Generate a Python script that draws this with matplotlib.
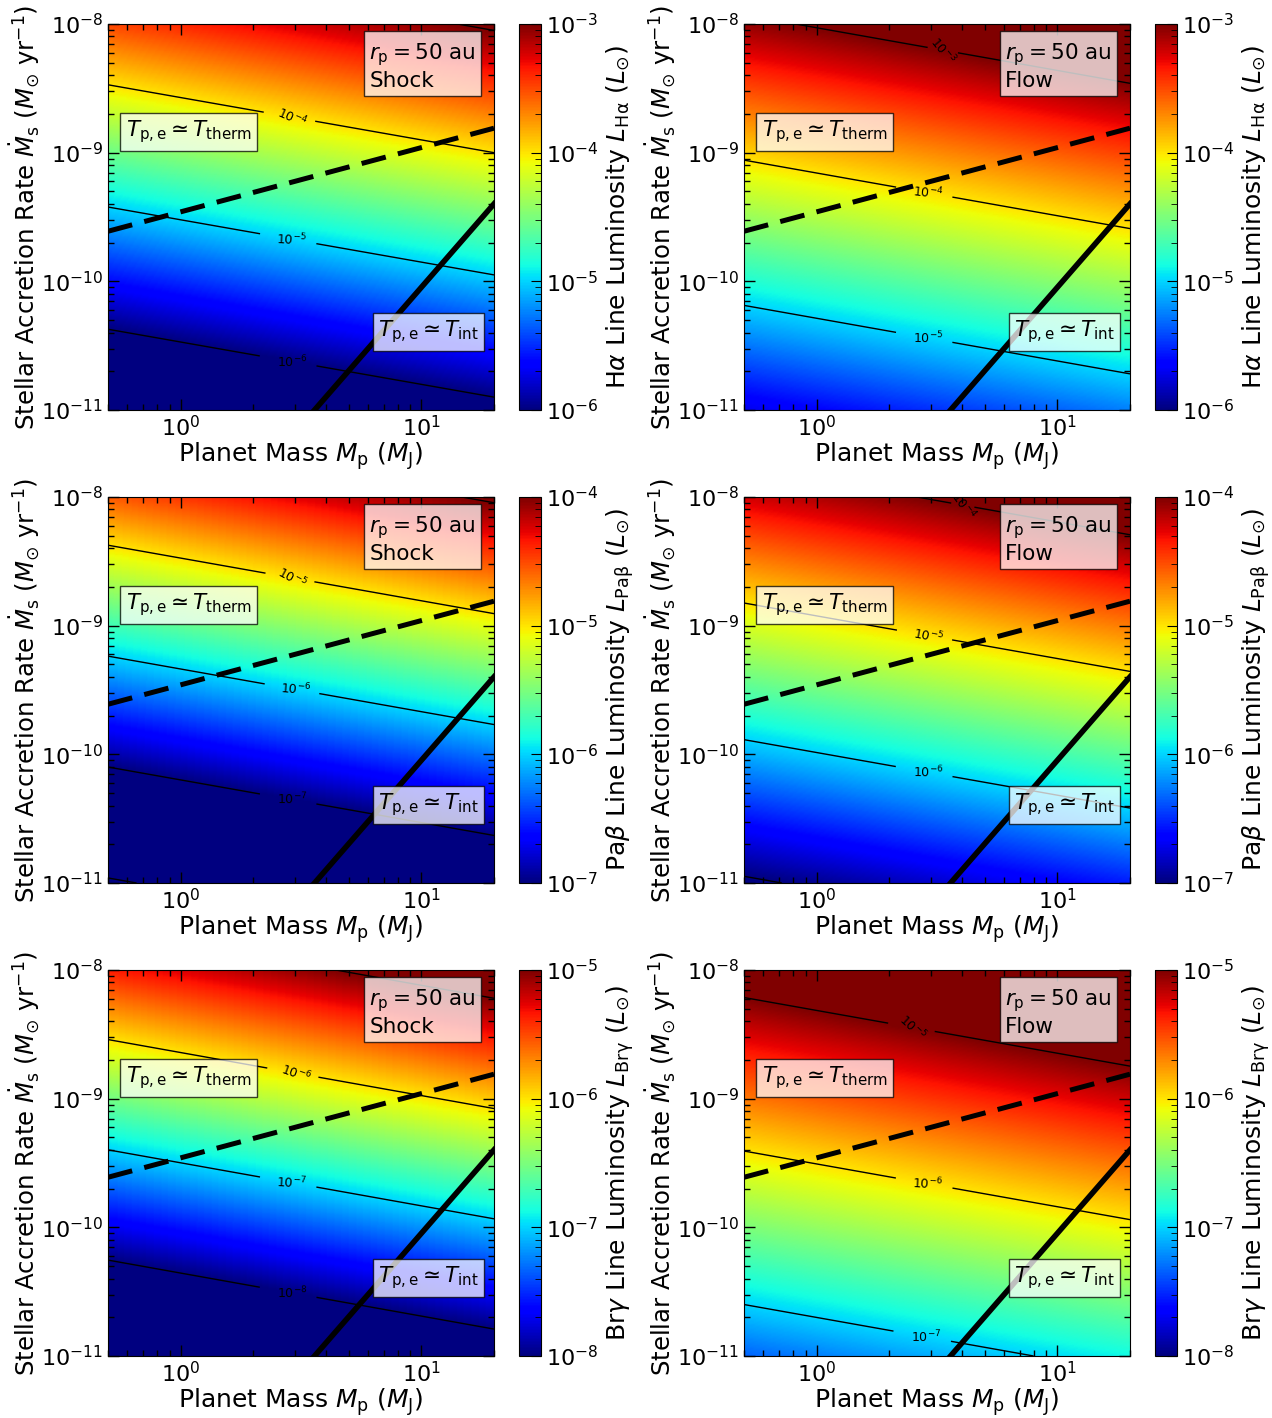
import numpy as np
import matplotlib
matplotlib.use('Agg')
import matplotlib.pyplot as plt
from matplotlib.colors import LogNorm
from matplotlib.ticker import LogLocator, NullFormatter

# ---- data ----
lines = ['H', 'H', 'Pa', 'Pa', 'Br', 'Br']
models = ['Shock', 'Flow', 'Shock', 'Flow', 'Shock', 'Flow']
cbar_labels = {
    'H': r'H$\alpha$ Line Luminosity $L_{\rm H\alpha}$ ($L_{⊙}$)',
    'Pa': r'Pa$\beta$ Line Luminosity $L_{\rm Pa\beta}$ ($L_{⊙}$)',
    'Br': r'Br$\gamma$ Line Luminosity $L_{\rm Br\gamma}$ ($L_{⊙}$)',
}
cbar_lo = [1e-6, 1e-6, 1e-7, 1e-7, 1e-8, 1e-8]
cbar_hi = [1e-3, 1e-3, 1e-4, 1e-4, 1e-5, 1e-5]

# one reference contour per panel: its level and stellar accretion rate
# at the left (Mp=0.5) and right (Mp=20) edges, plus dex of Mdot per dex of L
ref_level = [1e-4, 1e-4, 1e-5, 1e-5, 1e-6, 1e-5]
ref_mdot_left = [3.37e-9, 8.75e-10, 4.22e-9, 1.50e-9, 2.88e-9, 6.11e-9]
ref_mdot_right = [1.00e-9, 2.57e-10, 1.24e-9, 4.41e-10, 8.38e-10, 1.79e-9]
mdot_dex_per_L_dex = [0.95, 1.129, 0.862, 1.062, 0.857, 1.193]

# contour labels: (level, planet mass where the label sits)
label_spots = [
    [(1e-4, 2.9), (1e-5, 2.9), (1e-6, 2.9)],
    [(1e-3, 3.35), (1e-4, 2.9), (1e-5, 2.9)],
    [(1e-5, 2.9), (1e-6, 3.0), (1e-7, 2.9)],
    [(1e-4, 4.05), (1e-5, 2.9), (1e-6, 2.9)],
    [(1e-6, 3.0), (1e-7, 2.9), (1e-8, 2.9)],
    [(1e-5, 2.5), (1e-6, 2.9), (1e-7, 2.85)],
]

# T_therm (dashed) and T_int (solid) boundaries
therm_mp = [0.5, 20.0]
therm_mdot = [2.45e-10, 1.55e-9]
int_mp = [3.6, 20.0]
int_mdot = [1e-11, 4.0e-10]

mp_lim = (0.5, 20.0)
mdot_lim = (1e-11, 1e-8)

# ---- figure ----
plt.rcParams['mathtext.fontset'] = 'dejavusans'
fig = plt.figure(figsize=(12.72, 14.18), dpi=100)

W, H = 1272.0, 1418.0
col_left = [108, 744]
row_top = [24, 497, 970]
ax_w, ax_h = 386, 386
cb_off, cb_w = 411, 22

mp = np.logspace(np.log10(mp_lim[0]), np.log10(mp_lim[1]), 300)
md = np.logspace(np.log10(mdot_lim[0]), np.log10(mdot_lim[1]), 300)
MP, MD = np.meshgrid(mp, md)
span = np.log10(mp_lim[1]) - np.log10(mp_lim[0])

def ref_line(i, x):
    l0 = np.log10(ref_mdot_left[i])
    l1 = np.log10(ref_mdot_right[i])
    return l0 + (l1 - l0) * (np.log10(x) - np.log10(mp_lim[0])) / span

fmt = lambda v: r'$10^{%d}$' % int(round(np.log10(v)))

for i in range(6):
    r, c = i // 2, i % 2
    x0 = col_left[c] / W
    y0 = 1 - (row_top[r] + ax_h) / H
    ax = fig.add_axes([x0, y0, ax_w / W, ax_h / H])
    cax = fig.add_axes([(col_left[c] + cb_off) / W, y0, cb_w / W, ax_h / H])

    logL = np.log10(ref_level[i]) + (np.log10(MD) - ref_line(i, MP)) / mdot_dex_per_L_dex[i]
    L = 10 ** logL
    pm = ax.pcolormesh(MP, MD, L, cmap='jet', norm=LogNorm(cbar_lo[i], cbar_hi[i]),
                       shading='gouraud', rasterized=True)
    cs = ax.contour(MP, MD, L, levels=10.0 ** np.arange(-10, -1), colors='k', linewidths=1)
    spots = []
    for lev, x in label_spots[i]:
        y = 10 ** (ref_line(i, x) + np.log10(lev / ref_level[i]) * mdot_dex_per_L_dex[i])
        spots.append((x, min(y, 0.97e-8)))
    ax.clabel(cs, manual=spots, inline=True, inline_spacing=0, fontsize=9, fmt=fmt)

    ax.plot(therm_mp, therm_mdot, color='k', lw=3.6, ls=(0, (5, 2.5)))
    ax.plot(int_mp, int_mdot, color='k', lw=4)

    ax.set_xscale('log')
    ax.set_yscale('log')
    ax.set_xlim(*mp_lim)
    ax.set_ylim(*mdot_lim)
    ax.xaxis.set_minor_formatter(NullFormatter())
    ax.tick_params(which='both', direction='in', top=True, right=True, labelsize=16)
    ax.tick_params(which='major', length=8, width=1)
    ax.tick_params(which='minor', length=4.5, width=1)
    ax.set_xlabel(r'Planet Mass $M_{\rm p}$ ($M_{\rm J}$)', fontsize=18, labelpad=0)
    ax.set_ylabel(r'Stellar Accretion Rate $\dot{M}_{\rm s}$ ($M_{⊙}$ yr$^{-1}$)',
                  fontsize=17.6, labelpad=-1)

    box = dict(boxstyle='square,pad=0.25', facecolor='white', alpha=0.75, edgecolor='black')
    ax.text(0.953, 0.956, r'$r_{\rm p} = 50$ au' + '\n' + models[i], transform=ax.transAxes,
            ha='right', va='top', multialignment='left', fontsize=15.5, bbox=box)
    ax.text(0.046, 0.72, r'$T_{\rm p,e} \simeq T_{\rm therm}$', transform=ax.transAxes,
            ha='left', va='center', fontsize=15.5, bbox=box)
    ax.text(0.961, 0.202, r'$T_{\rm p,e} \simeq T_{\rm int}$', transform=ax.transAxes,
            ha='right', va='center', fontsize=15.5, bbox=box)

    cb = fig.colorbar(pm, cax=cax)
    cax.yaxis.set_minor_locator(LogLocator(subs=np.arange(2, 10)))
    cax.yaxis.set_minor_formatter(NullFormatter())
    cax.tick_params(which='both', direction='in', labelsize=16)
    cax.tick_params(which='major', length=7)
    cax.tick_params(which='minor', length=4)
    cb.set_label(cbar_labels[lines[i]], fontsize=18)

fig.savefig('out.png', dpi=100)
